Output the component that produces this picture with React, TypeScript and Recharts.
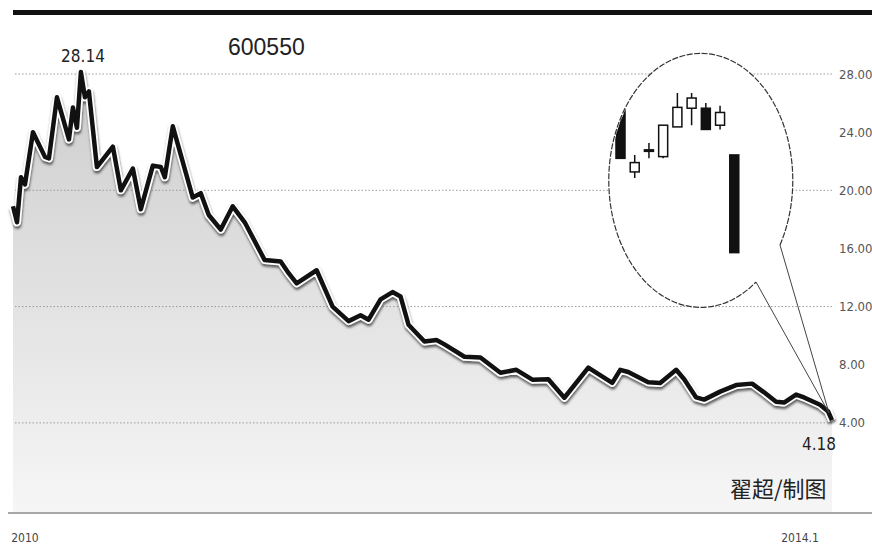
import { ComposedChart, Area, Line, Bar, XAxis, YAxis, ReferenceLine } from "recharts";

// weekly closes, 2010 -> early 2014 (week index)
const WEEKS = [
  0, 1, 2, 3, 5, 8, 9, 11, 14, 15, 16, 17, 18, 19, 21, 25, 27, 30, 32, 35, 37, 38, 40, 45, 47,
  49, 52, 55, 58, 63, 67, 69, 71, 76, 80, 84, 87, 89, 92, 95, 97, 99, 103, 106, 108, 113, 117,
  122, 126, 130, 134, 138, 144, 150, 152, 154, 159, 162, 166, 168, 171, 173, 177, 181, 185, 188,
  191, 193, 196, 198, 202, 204, 205,
];
const PRICES = [
  18.9, 17.8, 20.9, 20.4, 24.0, 22.3, 22.2, 26.4, 23.5, 25.7, 24.3, 28.14, 26.4, 26.8, 21.6,
  23.0, 20.0, 21.5, 18.7, 21.7, 21.6, 20.9, 24.4, 19.5, 19.8, 18.3, 17.3, 18.9, 17.8, 15.2, 15.1,
  14.3, 13.6, 14.5, 12.0, 11.0, 11.4, 11.1, 12.5, 13.0, 12.7, 10.75, 9.6, 9.7, 9.4, 8.55, 8.5,
  7.45, 7.65, 6.97, 7.0, 5.73, 7.8, 6.75, 7.65, 7.5, 6.8, 6.75, 7.65, 7.0, 5.75, 5.6, 6.15, 6.6,
  6.7, 6.1, 5.45, 5.4, 5.95, 5.75, 5.25, 4.8, 4.18,
];

const Y_TICKS = [4, 8, 12, 16, 20, 24, 28];
const GRID_VALUES = [4, 12, 20, 28];
const X_TICKS = [3, 197];
const X_TICK_LABELS = ["2010", "2014.1"];

// candles shown in the callout
const CANDLE_DAYS = ["d1", "d2", "d3", "d4", "d5", "d6", "d7", "d8", "d9"];
const CANDLE_OPEN = [6.2, 5.24, 5.49, 5.42, 5.77, 5.99, 5.99, 5.79, 5.44];
const CANDLE_CLOSE = [5.4, 5.35, 5.5, 5.79, 6.0, 6.11, 5.74, 5.94, 4.29];
const CANDLE_HIGH = [6.25, 5.44, 5.58, 5.79, 6.17, 6.17, 6.05, 6.02, 5.44];
const CANDLE_LOW = [5.4, 5.17, 5.4, 5.4, 5.77, 5.79, 5.74, 5.74, 4.29];

const NARROW = "'DejaVu Sans Condensed', sans-serif";

const series = WEEKS.map((w, i) => ({ week: w, price: PRICES[i] }));
const candles = CANDLE_DAYS.map((d, i) => ({
  day: d,
  open: CANDLE_OPEN[i],
  close: CANDLE_CLOSE[i],
  high: CANDLE_HIGH[i],
  low: CANDLE_LOW[i],
  range: [CANDLE_LOW[i], CANDLE_HIGH[i]],
}));

function DateTick({ x, y, payload }: any) {
  const label = X_TICK_LABELS[X_TICKS.indexOf(payload.value)];
  return (
    <text x={x} y={y + 27} textAnchor="middle" fontSize={12} fill="#444" fontFamily={NARROW}>
      {label}
    </text>
  );
}

function Candle(props: any) {
  const { x, y, width, height, payload } = props;
  const top = Math.min(y, y + height);
  const h = Math.abs(height);
  const k = h / (payload.high - payload.low);
  const py = (v: number) => top + (payload.high - v) * k;
  const bTop = py(Math.max(payload.open, payload.close));
  const bBot = py(Math.min(payload.open, payload.close));
  const cx = x + width / 2;
  const up = payload.close >= payload.open;
  return (
    <g>
      <line x1={cx} x2={cx} y1={top} y2={top + h} stroke="#111" strokeWidth={1.5} />
      <rect
        x={x}
        y={bTop}
        width={width}
        height={Math.max(bBot - bTop, 1.5)}
        fill={up ? "#fff" : "#111"}
        stroke="#111"
        strokeWidth={1.5}
      />
    </g>
  );
}

export default function App() {
  return (
    <div style={{ position: "absolute", left: 0, top: 0, width: 872, height: 546, background: "#fff", overflow: "hidden" }}>
      <ComposedChart width={872} height={546} data={series} margin={{ top: 15, right: 0, bottom: 0, left: 13 }}>
        <defs>
          <linearGradient id="areaFill" x1="0" y1="0" x2="0" y2="1">
            <stop offset="0%" stopColor="#cdcdcd" />
            <stop offset="100%" stopColor="#f6f6f6" />
          </linearGradient>
          <filter id="halo" x="-5%" y="-5%" width="110%" height="115%">
            <feDropShadow dx="0.5" dy="2.5" stdDeviation="1.3" floodColor="#444" floodOpacity="0.85" />
          </filter>
        </defs>
        <XAxis
          dataKey="week"
          type="number"
          domain={[0, 205]}
          ticks={X_TICKS}
          height={33}
          axisLine={false}
          tickLine={false}
          tickSize={0}
          tick={<DateTick />}
        />
        <YAxis
          orientation="right"
          type="number"
          domain={[-2.2, 32.06]}
          allowDataOverflow
          ticks={Y_TICKS}
          width={40}
          axisLine={false}
          tickLine={false}
          tickSize={0}
          tickMargin={7}
          tickFormatter={(v: number) => v.toFixed(2)}
          tick={{ fill: "#555", fontSize: 13, fontFamily: NARROW }}
        />
        <Area
          dataKey="price"
          type="linear"
          stroke="none"
          fill="url(#areaFill)"
          fillOpacity={1}
          baseValue="dataMin"
          isAnimationActive={false}
        />
        {GRID_VALUES.map((v) => (
          <ReferenceLine key={v} y={v} stroke="#9a9a9a" strokeDasharray="1.5 2" />
        ))}
        <Line
          dataKey="price"
          type="linear"
          stroke="#fff"
          strokeWidth={8}
          strokeLinejoin="round"
          dot={false}
          filter="url(#halo)"
          isAnimationActive={false}
        />
        <Line
          dataKey="price"
          type="linear"
          stroke="#111"
          strokeWidth={4.5}
          strokeLinejoin="round"
          dot={false}
          isAnimationActive={false}
        />
      </ComposedChart>

      <svg width={872} height={546} style={{ position: "absolute", left: 0, top: 0, pointerEvents: "none" }}>
        <rect x={13} y={10} width={859} height={5} fill="#111" />
        <line x1={8} x2={872} y1={513} y2={513} stroke="#a8a8a8" strokeWidth={2} />
        <ellipse cx={701} cy={180} rx={92} ry={127} fill="#fff" />
        <path
          d="M 780 245 A 92 127 0 1 0 756 282"
          fill="none"
          stroke="#333"
          strokeWidth={1.2}
          strokeDasharray="6 1.5"
        />
        <path d="M 756 282 L 829 413 L 780 245" fill="none" stroke="#444" strokeWidth={1} />
        <text x={228} y={55} fontSize={23} fill="#222" fontFamily="'Liberation Sans', Arial, sans-serif">
          600550
        </text>
        <text x={83} y={62} textAnchor="middle" fontSize={17} fill="#222" fontFamily={NARROW}>
          28.14
        </text>
        <text x={819} y={450} textAnchor="middle" fontSize={17} fill="#222" fontFamily={NARROW}>
          4.18
        </text>
        <text x={730} y={497} fontSize={22} fill="#222" fontFamily="'Noto Sans CJK SC', sans-serif">
          翟超/制图
        </text>
      </svg>

      <div
        style={{
          position: "absolute",
          left: 610,
          top: 53,
          width: 184,
          height: 254,
          clipPath: "ellipse(92px 127px at 92px 127px)",
        }}
      >
        <ComposedChart width={184} height={254} data={candles} margin={{ top: 0, right: 53, bottom: 0, left: 3 }}>
          <XAxis dataKey="day" type="category" hide />
          <YAxis type="number" domain={[3.65, 6.64]} allowDataOverflow hide />
          <Bar dataKey="range" barSize={9} shape={<Candle />} isAnimationActive={false} />
        </ComposedChart>
      </div>
    </div>
  );
}
